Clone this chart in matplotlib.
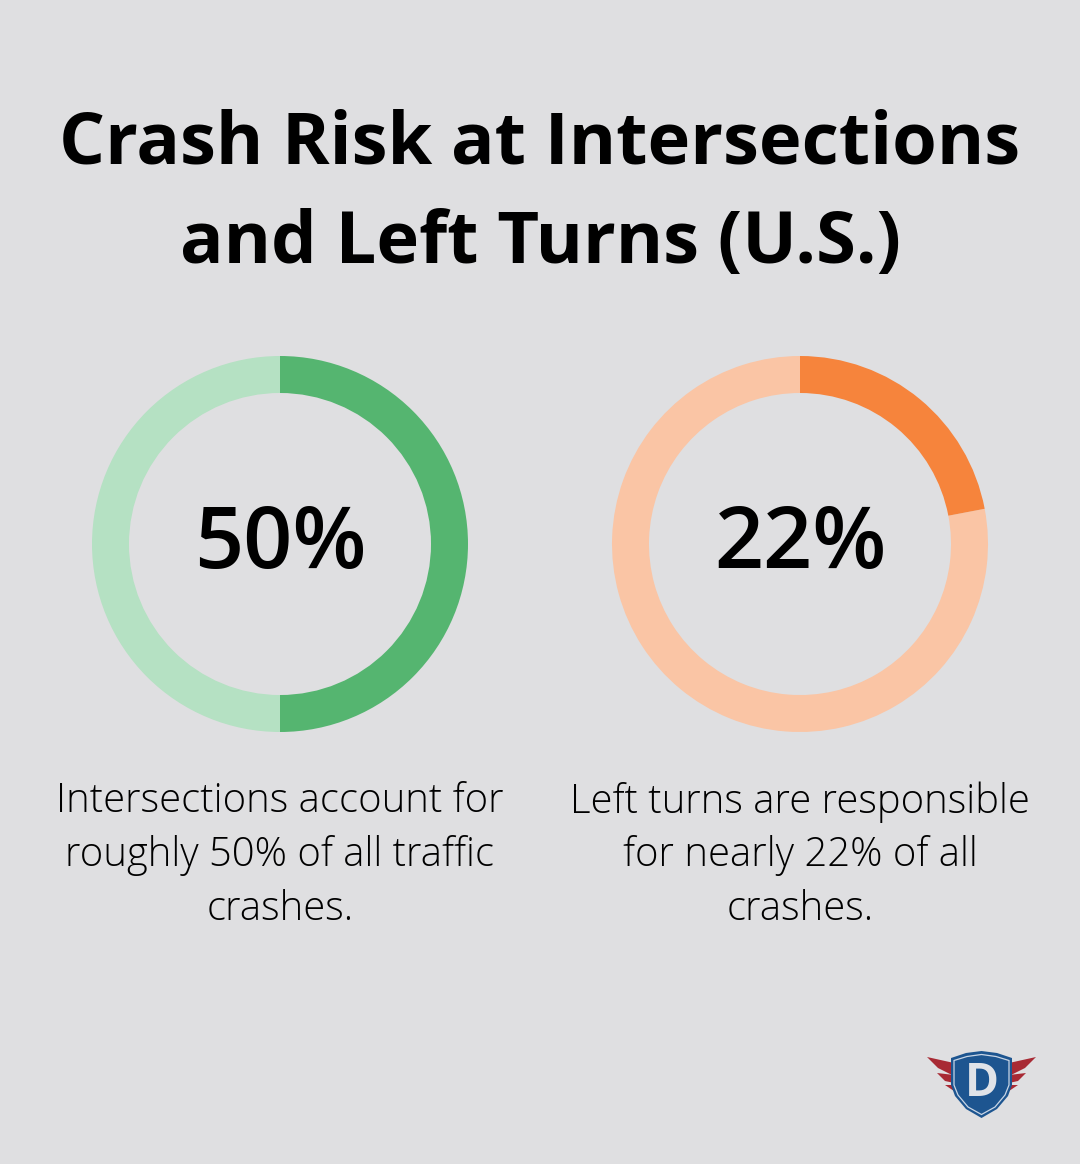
import matplotlib
matplotlib.use("Agg")
import matplotlib.pyplot as plt
from matplotlib.patches import Polygon, Wedge

W, H = 1080, 1164
BG = "#dfdfe1"
title_lines = ["Crash Risk at Intersections", "and Left Turns (U.S.)"]
values = [50, 22]
labels = ["50%", "22%"]
captions = ["Intersections account for\nroughly 50% of all traffic\ncrashes.",
            "Left turns are responsible\nfor nearly 22% of all\ncrashes."]
dark = ["#55b570", "#f6843c"]
light = ["#b5e1c3", "#fac5a5"]
centers = [280, 800]

plt.rcParams['font.family'] = ['Open Sans', 'DejaVu Sans']
fig = plt.figure(figsize=(W/100, H/100), dpi=100, facecolor=BG)
ax = fig.add_axes([0, 0, 1, 1])
ax.set_xlim(0, W); ax.set_ylim(H, 0); ax.axis("off")

ax.text(540, 144, title_lines[0], ha="center", va="center", fontsize=52, fontweight="bold", color="black")
ax.text(540, 244, title_lines[1], ha="center", va="center", fontsize=52, fontweight="bold", color="black")

cy = 544; R = 188; w = 37
for cx, v, lab, cap, d, l in zip(centers, values, labels, captions, dark, light):
    # y axis is inverted: positive angles run clockwise on screen, 0 = east
    start = -90
    end = -90 + 360 * v / 100
    ax.add_patch(Wedge((cx, cy), R, end, start + 360, width=w, facecolor=l, edgecolor="none"))
    ax.add_patch(Wedge((cx, cy), R, start, end, width=w, facecolor=d, edgecolor="none"))
    ax.text(cx, 546, lab, ha="center", va="center", fontsize=62, fontweight="semibold", color="black")
    for i, line in enumerate(cap.split("\n")):
        ax.text(cx, 802 + 54*i, line, ha="center", va="center", fontsize=28.85, fontweight="light", color="#000000")

# logo
wing = "#a82a34"
feathers = [[(927,1057),(954,1063),(954,1076),(938,1068)],
            [(937,1073),(954,1075),(954,1083),(945,1081)],
            [(945,1085),(954,1085),(954,1091)]]
for f in feathers:
    ax.add_patch(Polygon(f, closed=True, fc=wing, ec="none"))
    ax.add_patch(Polygon([(1963-x, y) for x, y in f], closed=True, fc=wing, ec="none"))
shield = [(981.5,1051),(997,1053),(1012,1058),(1012,1085),(1008,1096),(997,1109),(981.5,1118),(966,1109),(955,1096),(951,1085),(951,1058),(966,1053)]
ax.add_patch(Polygon(shield, closed=True, fc="#1d5590", ec="none"))
inner = [(981.5,1054.5),(996,1056.5),(1009,1060.5),(1009,1085),(1005,1095),(995,1107),(981.5,1114.5),(968,1107),(958,1095),(954,1085),(954,1060.5),(967,1056.5)]
ax.add_patch(Polygon(inner, closed=True, fc="none", ec="#c9d6e6", lw=0.9))
ax.text(982, 1083, "D", ha="center", va="center", fontsize=33, fontweight="bold",
        family=["Liberation Sans Narrow", "Open Sans"], color="#e0e3e8")

fig.savefig("out.png", dpi=100, facecolor=BG)
